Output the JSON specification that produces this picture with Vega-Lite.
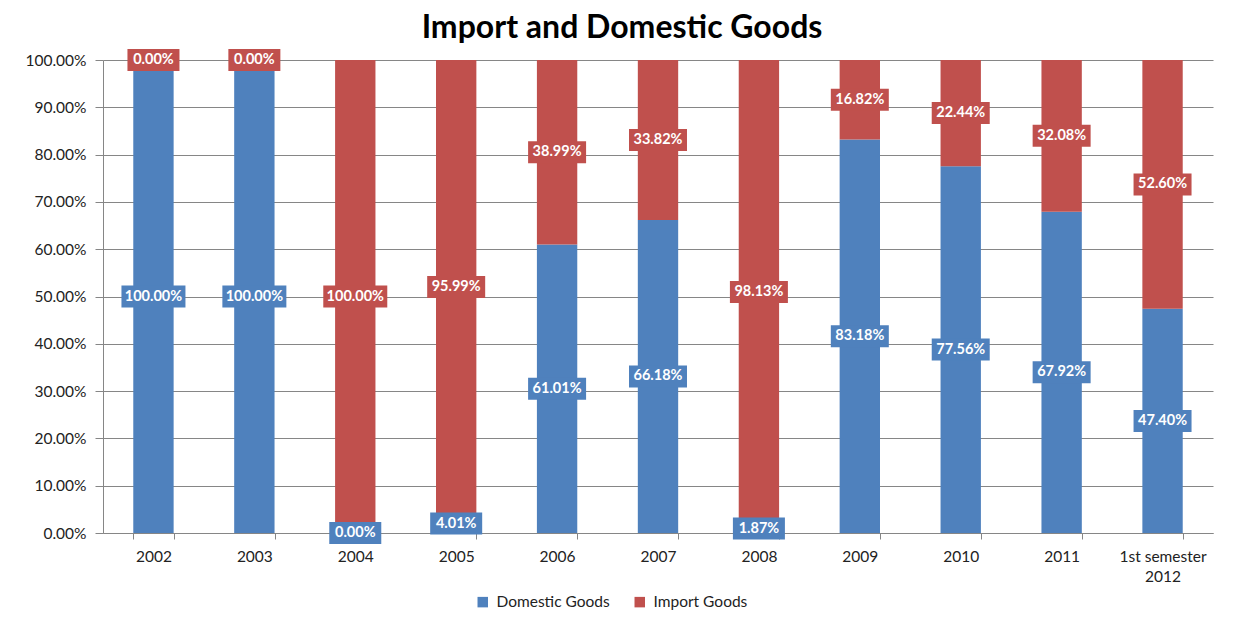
{
  "$schema": "https://vega.github.io/schema/vega-lite/v6.json",
  "width": 1110,
  "height": 473,
  "autosize": "none",
  "padding": {"left": 103, "top": 60, "right": 20, "bottom": 98},
  "background": "white",
  "title": {"text": "Import and Domestic Goods", "font": "Lato", "fontSize": 32, "fontWeight": "bold", "color": "#000000", "anchor": "middle", "dx": -36, "offset": 4},
  "data": {"values": [
    {"period": "2002", "type": "Domestic Goods", "value": 1.0},
    {"period": "2002", "type": "Import Goods", "value": 0.0},
    {"period": "2003", "type": "Domestic Goods", "value": 1.0},
    {"period": "2003", "type": "Import Goods", "value": 0.0},
    {"period": "2004", "type": "Domestic Goods", "value": 0.0},
    {"period": "2004", "type": "Import Goods", "value": 1.0},
    {"period": "2005", "type": "Domestic Goods", "value": 0.0401},
    {"period": "2005", "type": "Import Goods", "value": 0.9599},
    {"period": "2006", "type": "Domestic Goods", "value": 0.6101},
    {"period": "2006", "type": "Import Goods", "value": 0.3899},
    {"period": "2007", "type": "Domestic Goods", "value": 0.6618},
    {"period": "2007", "type": "Import Goods", "value": 0.3382},
    {"period": "2008", "type": "Domestic Goods", "value": 0.0187},
    {"period": "2008", "type": "Import Goods", "value": 0.9813},
    {"period": "2009", "type": "Domestic Goods", "value": 0.8318},
    {"period": "2009", "type": "Import Goods", "value": 0.1682},
    {"period": "2010", "type": "Domestic Goods", "value": 0.7756},
    {"period": "2010", "type": "Import Goods", "value": 0.2244},
    {"period": "2011", "type": "Domestic Goods", "value": 0.6792},
    {"period": "2011", "type": "Import Goods", "value": 0.3208},
    {"period": "1st semester 2012", "type": "Domestic Goods", "value": 0.474},
    {"period": "1st semester 2012", "type": "Import Goods", "value": 0.526}
  ]},
  "encoding": {
    "x": {
      "field": "period", "type": "nominal", "sort": null, "title": null,
      "scale": {"paddingInner": 0.6, "paddingOuter": 0.3},
      "axis": {
        "labelAngle": 0, "tickBand": "extent", "labelFont": "Lato", "labelFontSize": 15.5, "labelColor": "#222222",
        "domainColor": "#868686", "tickColor": "#868686", "tickSize": 6, "labelPadding": 10,
        "labelExpr": "datum.value == '1st semester 2012' ? ['1st semester', '2012'] : datum.value",
        "labelLineHeight": 20
      }
    },
    "color": {
      "field": "type", "type": "nominal",
      "scale": {"domain": ["Domestic Goods", "Import Goods"], "range": ["#4F81BD", "#C0504D"]},
      "legend": {
        "title": null, "orient": "none", "legendX": 372, "legendY": 534, "direction": "horizontal",
        "symbolType": "square", "symbolSize": 110, "symbolStrokeWidth": 0, "labelFont": "Lato", "labelFontSize": 15.5,
        "labelColor": "#222222", "columnPadding": 22, "labelOffset": 6
      }
    }
  },
  "layer": [
    {
      "mark": {"type": "bar"},
      "encoding": {
        "y": {
          "field": "value", "type": "quantitative", "stack": "zero", "title": null,
          "scale": {"domain": [0, 1], "nice": false},
          "axis": {
            "values": [0, 0.1, 0.2, 0.3, 0.4, 0.5, 0.6, 0.7, 0.8, 0.9, 1.0], "format": ".2%",
            "labelFont": "Lato", "labelFontSize": 15.5, "labelColor": "#222222", "labelPadding": 9,
            "grid": true, "gridColor": "#868686", "domainColor": "#868686", "tickColor": "#868686", "tickSize": 8
          }
        },
        "order": {"field": "type", "sort": "ascending"}
      }
    },
    {
      "transform": [
        {"stack": "value", "groupby": ["period"], "sort": [{"field": "type"}], "as": ["v0", "v1"]},
        {"calculate": "(datum.v0 + datum.v1) / 2", "as": "mid"},
        {"calculate": "format(datum.value, '.2%')", "as": "label"}
      ],
      "layer": [
        {
          "transform": [{"filter": "datum.value >= 0.99995"}],
          "mark": {"type": "point", "filled": true, "opacity": 1, "strokeWidth": 0, "size": 484, "shape": "M-2.909,-1H2.909V1H-2.909Z"},
          "encoding": {"y": {"field": "mid", "type": "quantitative"}}
        },
        {
          "transform": [{"filter": "datum.value < 0.99995 && datum.value >= 0.1"}],
          "mark": {"type": "point", "filled": true, "opacity": 1, "strokeWidth": 0, "size": 484, "shape": "M-2.636,-1H2.636V1H-2.636Z"},
          "encoding": {"y": {"field": "mid", "type": "quantitative"}}
        },
        {
          "transform": [{"filter": "datum.value < 0.1"}],
          "mark": {"type": "point", "filled": true, "opacity": 1, "strokeWidth": 0, "size": 484, "shape": "M-2.364,-1H2.364V1H-2.364Z"},
          "encoding": {"y": {"field": "mid", "type": "quantitative"}}
        },
        {
          "mark": {"type": "text", "font": "Lato", "fontSize": 14.5, "fontWeight": "bold", "color": "white", "baseline": "middle", "align": "center"},
          "encoding": {
            "y": {"field": "mid", "type": "quantitative"},
            "text": {"field": "label"},
            "color": {"value": "white"}
          }
        }
      ]
    }
  ],
  "config": {"view": {"stroke": null}}
}
